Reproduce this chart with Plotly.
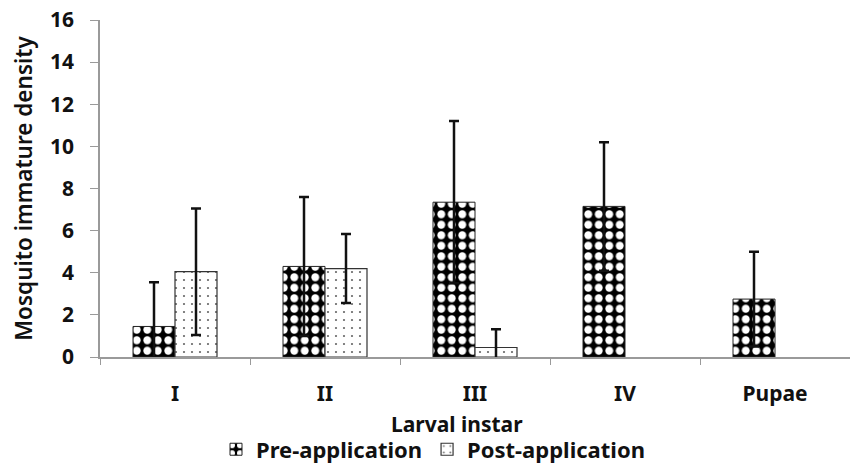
import plotly.graph_objects as go

categories = ["I", "II", "III", "IV", "Pupae"]
pre_values = [1.45, 4.3, 7.35, 7.15, 2.75]
pre_errors = [2.1, 3.3, 3.85, 3.05, 2.25]
post_values = [4.05, 4.2, 0.45, None, None]
post_errors = [3.0, 1.64, 0.87, None, None]
y_ticks = [0, 2, 4, 6, 8, 10, 12, 14, 16]

FONT = "Noto Sans"

fig = go.Figure()
fig.add_trace(go.Bar(
    name="Pre-application", x=categories, y=pre_values,
    marker=dict(color="black", line=dict(color="#222", width=1),
                pattern=dict(shape=".", bgcolor="black", fgcolor="white",
                             fgopacity=1, size=10.5, solidity=0.45, fillmode="replace")),
    error_y=dict(type="data", array=pre_errors, visible=True,
                 color="#111", thickness=2.5, width=5),
))
fig.add_trace(go.Bar(
    name="Post-application", x=categories, y=post_values,
    marker=dict(color="white", line=dict(color="#333", width=1.2),
                pattern=dict(shape=".", bgcolor="white", fgcolor="#666",
                             fgopacity=1, size=8, solidity=0.06, fillmode="replace")),
    error_y=dict(type="data", array=post_errors, visible=True,
                 color="#111", thickness=2.5, width=5),
))

fig.update_layout(
    width=850, height=465,
    margin=dict(l=100, r=0, t=20, b=108, autoexpand=False),
    barmode="group", bargap=0.44, bargroupgap=0,
    plot_bgcolor="white", paper_bgcolor="white",
    font=dict(family=FONT, color="#111", size=20),
    showlegend=True,
    legend=dict(orientation="h", x=0.444, xanchor="center", y=-0.212,
                yanchor="top", font=dict(size=22, family=FONT, weight="bold"),
                itemwidth=30, traceorder="normal"),
    annotations=[dict(text="<b>Larval instar</b>", xref="paper", yref="paper",
                      x=0.476, y=-0.198, xanchor="center", yanchor="middle",
                      showarrow=False, font=dict(size=21, family=FONT))],
)
fig.update_xaxes(
    type="category", showline=True, linecolor="#9a9a9a", linewidth=1.5,
    ticks="outside", tickson="boundaries", ticklen=6, tickcolor="#9a9a9a",
    tickfont=dict(size=21, family=FONT, weight="bold"),
    ticklabelstandoff=17,
    showgrid=False,
)
fig.update_yaxes(
    range=[0, 16], tickvals=y_ticks, showline=True, linecolor="#9a9a9a",
    linewidth=1.5, ticks="outside", ticklen=8, tickcolor="#9a9a9a",
    tickfont=dict(size=21, family=FONT, weight="bold"),
    ticklabelstandoff=12, ticklabeloverflow="allow",
    title=dict(text="Mosquito immature density", font=dict(size=22.5, family=FONT, weight=600), standoff=11),
    showgrid=False, zeroline=False,
)

fig.write_html("out.html", config={"displayModeBar": False},
               post_script="document.body.style.margin='0';")
